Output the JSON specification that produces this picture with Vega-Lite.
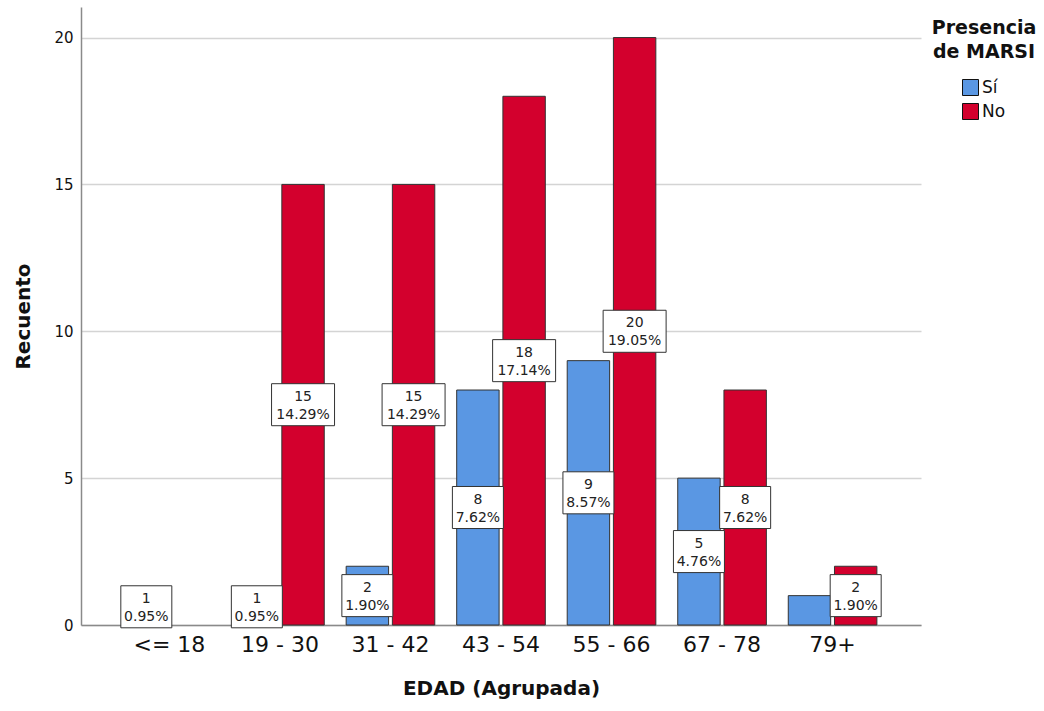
{
  "$schema": "https://vega.github.io/schema/vega-lite/v6.json",
  "width": 840,
  "height": 618,
  "autosize": "none",
  "padding": {"left": 81, "top": 7, "right": 123, "bottom": 86},
  "background": "white",
  "config": {
    "view": {"stroke": null},
    "font": "DejaVu Sans"
  },
  "data": {
    "values": [
      {"age": "<= 18", "group": "Sí", "count": 1, "pct": 0.95},
      {"age": "<= 18", "group": "No", "count": 0, "pct": 0},
      {"age": "19 - 30", "group": "Sí", "count": 1, "pct": 0.95},
      {"age": "19 - 30", "group": "No", "count": 15, "pct": 14.29},
      {"age": "31 - 42", "group": "Sí", "count": 2, "pct": 1.90},
      {"age": "31 - 42", "group": "No", "count": 15, "pct": 14.29},
      {"age": "43 - 54", "group": "Sí", "count": 8, "pct": 7.62},
      {"age": "43 - 54", "group": "No", "count": 18, "pct": 17.14},
      {"age": "55 - 66", "group": "Sí", "count": 9, "pct": 8.57},
      {"age": "55 - 66", "group": "No", "count": 20, "pct": 19.05},
      {"age": "67 - 78", "group": "Sí", "count": 5, "pct": 4.76},
      {"age": "67 - 78", "group": "No", "count": 8, "pct": 7.62},
      {"age": "79+", "group": "Sí", "count": 1, "pct": 0.95},
      {"age": "79+", "group": "No", "count": 2, "pct": 1.90}
    ]
  },
  "encoding": {
    "x": {
      "field": "age",
      "type": "nominal",
      "sort": ["<= 18", "19 - 30", "31 - 42", "43 - 54", "55 - 66", "67 - 78", "79+"],
      "scale": {"paddingInner": 0, "paddingOuter": 0.3},
      "axis": {
        "title": "EDAD (Agrupada)",
        "labelAngle": 0,
        "labelFontSize": 22,
        "labelColor": "#111",
        "labelPadding": 9,
        "ticks": false,
        "domainColor": "#8a8a8a",
        "domainWidth": 1.5,
        "titleFontSize": 20,
        "titleFontWeight": "bold",
        "titleColor": "#111",
        "titlePadding": 23
      }
    },
    "xOffset": {
      "field": "group",
      "type": "nominal",
      "sort": ["Sí", "No"],
      "scale": {"paddingInner": 0.082, "paddingOuter": 0.237}
    }
  },
  "layer": [
    {
      "transform": [{"filter": "datum.count > 0"}],
      "mark": {"type": "bar", "stroke": "#333", "strokeWidth": 1},
      "encoding": {
        "y": {
          "field": "count",
          "type": "quantitative",
          "scale": {"domain": [0, 21.04], "nice": false},
          "axis": {
            "title": "Recuento",
            "values": [0, 5, 10, 15, 20],
            "grid": true,
            "gridColor": "#d4d4d4",
            "gridWidth": 1.5,
            "ticks": false,
            "domainColor": "#8a8a8a",
            "domainWidth": 1.5,
            "labelFontSize": 15,
            "labelColor": "#111",
            "labelPadding": 8,
            "titleFontSize": 20,
            "titleFontWeight": "bold",
            "titleColor": "#111",
            "titlePadding": 20
          }
        },
        "color": {
          "field": "group",
          "type": "nominal",
          "scale": {"domain": ["Sí", "No"], "range": ["#5A97E3", "#D3002D"]},
          "legend": {
            "title": ["Presencia", "de MARSI"],
            "orient": "none",
            "legendX": 851,
            "legendY": 12,
            "titleFontSize": 19,
            "titleFontWeight": "bold",
            "titleColor": "#111",
            "titleLineHeight": 24,
            "titleAnchor": "middle",
            "titleAlign": "center",
            "titlePadding": 17,
            "symbolType": "square",
            "symbolSize": 256,
            "symbolStrokeColor": "#111",
            "symbolStrokeWidth": 1,
            "labelFontSize": 17,
            "labelColor": "#111",
            "labelOffset": 3,
            "rowPadding": 3
          }
        }
      }
    },
    {
      "transform": [
        {"filter": "datum.count > 0 && !(datum.age == '79+' && datum.group == 'Sí')"},
        {"calculate": "max(datum.count / 2, 0.62)", "as": "mid"}
      ],
      "mark": {"type": "point", "filled": true, "fill": "white", "stroke": "#333", "strokeWidth": 1, "opacity": 1, "size": 2601},
      "encoding": {
        "y": {"field": "mid", "type": "quantitative"},
        "shape": {
          "condition": {"test": "datum.pct >= 10", "value": "M-1.235,-0.824H1.235V0.824H-1.235Z"},
          "value": "M-1,-0.824H1V0.824H-1Z"
        }
      }
    },
    {
      "transform": [
        {"filter": "datum.count > 0 && !(datum.age == '79+' && datum.group == 'Sí')"},
        {"calculate": "max(datum.count / 2, 0.62)", "as": "mid"},
        {"calculate": "[datum.count + '', format(datum.pct, '.2f') + '%']", "as": "lbl"}
      ],
      "mark": {"type": "text", "fontSize": 14, "lineHeight": 18, "baseline": "middle", "align": "center", "dy": -8, "color": "#222"},
      "encoding": {
        "y": {"field": "mid", "type": "quantitative"},
        "text": {"field": "lbl"}
      }
    }
  ]
}
